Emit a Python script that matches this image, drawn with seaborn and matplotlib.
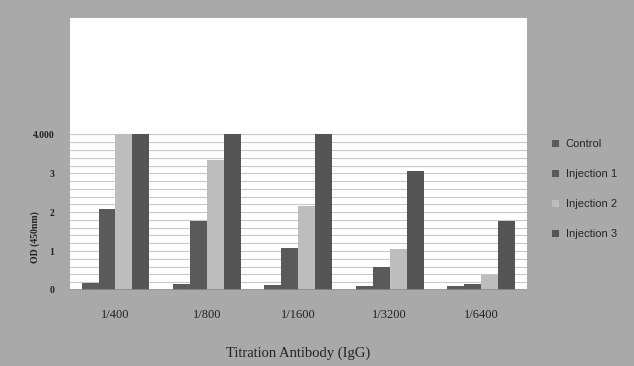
import numpy as np
import pandas as pd
import matplotlib
matplotlib.use("Agg")
import matplotlib.pyplot as plt
import seaborn as sns
from matplotlib.ticker import FixedLocator

# ========== DATA ==========
dilutions = ["1/400", "1/800", "1/1600", "1/3200", "1/6400"]
groups = ["Control", "Injection 1", "Injection 2", "Injection 3"]
control = [0.18, 0.16, 0.12, 0.10, 0.10]
injection1 = [2.08, 1.77, 1.07, 0.58, 0.16]
injection2 = [4.00, 3.34, 2.16, 1.05, 0.38]
injection3 = [4.00, 4.00, 4.00, 3.06, 1.77]
ytick_vals = [0, 1, 2, 3, 4]
ytick_labels = ["0", "1", "2", "3", "4.000"]

df = pd.DataFrame({
    "dilution": dilutions * 4,
    "group": np.repeat(groups, len(dilutions)),
    "od": control + injection1 + injection2 + injection3,
})

# ========== STYLE ==========
sns.set_style("white")
plt.rcParams["font.family"] = ["Liberation Serif", "DejaVu Serif"]

bg = "#a9a9a9"
palette = {"Control": "#5c5c5c", "Injection 1": "#5a5a5a",
           "Injection 2": "#bdbdbd", "Injection 3": "#555555"}

fig = plt.figure(figsize=(6.34, 3.66), dpi=100, facecolor=bg)
ax = fig.add_axes([0.110, 0.208, 0.721, 0.743])

sns.barplot(data=df, x="dilution", y="od", hue="group", order=dilutions,
            hue_order=groups, palette=palette, width=0.74, ax=ax,
            edgecolor="none", saturation=1, errorbar=None)

ax.set_ylim(0, 7.0)
ax.set_yticks(ytick_vals)
ax.set_yticklabels(ytick_labels, fontsize=7, fontweight="bold", color="#222222")
ax.yaxis.set_minor_locator(FixedLocator(np.arange(0, 4.01, 0.2)))
ax.grid(False)
ax.yaxis.grid(True, which="both", color="#c8c8c8", linewidth=0.8)
ax.set_axisbelow(True)
ax.tick_params(axis="y", length=0, which="both", pad=11)
ax.tick_params(axis="x", length=0, pad=14, labelsize=9, colors="#222222")

for s in ["top", "right", "left", "bottom"]:
    ax.spines[s].set_visible(False)
ax.axhline(0, color="#888888", linewidth=1.2, zorder=3)

ax.set_xlabel("Titration Antibody (IgG)", fontsize=10.5, color="#222222", labelpad=18)
ax.set_ylabel("OD (450nm)", fontsize=7, fontweight="bold", color="#222222")
ax.yaxis.set_label_coords(-0.064, 0.195)

leg = ax.legend(loc="upper left", bbox_to_anchor=(1.034, 0.59), frameon=False,
                labelspacing=1.8, handlelength=0.6, handleheight=0.6,
                handletextpad=0.6, prop={"family": ["Liberation Sans", "DejaVu Sans"], "size": 8})

fig.savefig("out.png", dpi=100, facecolor=bg)
